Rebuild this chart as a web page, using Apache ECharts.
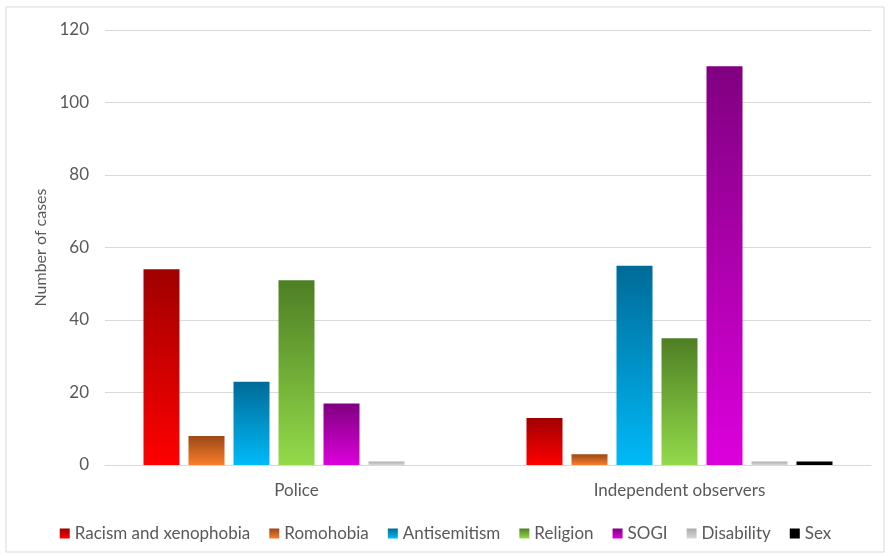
<!DOCTYPE html>
<html style="height: 100%">
<head>
<meta charset="utf-8">
</head>
<body style="height: 100%; margin: 0">
<div id="container" style="width: 891px; height: 556px"></div>
<script src="https://cdn.jsdelivr.net/npm/echarts@6/dist/echarts.min.js"></script>
<script>
var categories = ['Police', 'Independent observers'];
var seriesNames = ['Racism and xenophobia', 'Romohobia', 'Antisemitism', 'Religion', 'SOGI', 'Disability', 'Sex'];
var racism = [54, 13];
var romohobia = [8, 3];
var antisemitism = [23, 55];
var religion = [51, 35];
var sogi = [17, 110];
var disability = [1, 1];
var sex = [0, 1];
var yTicks = [0, 20, 40, 60, 80, 100, 120];

// top / bottom colours of each bar gradient
var colours = [
  ['#a00000', '#ff0000'],
  ['#9a4816', '#fa7d2a'],
  ['#006a98', '#00baf8'],
  ['#4e7f24', '#93da4a'],
  ['#800080', '#dc00dc'],
  ['#ababab', '#d9d9d9'],
  ['#000000', '#000000']
];
var values = [racism, romohobia, antisemitism, religion, sogi, disability, sex];

var dom = document.getElementById('container');
var myChart = echarts.init(dom);

var series = [];
for (var i = 0; i < seriesNames.length; i++) {
  series.push({
    name: seriesNames[i],
    type: 'bar',
    data: values[i],
    barWidth: 36,
    barGap: '25%',
    itemStyle: {
      color: new echarts.graphic.LinearGradient(0, 0, 0, 1, [
        { offset: 0, color: colours[i][0] },
        { offset: 1, color: colours[i][1] }
      ])
    }
  });
}

var option = {
  animation: false,
  textStyle: { fontFamily: 'Lato' },
  graphic: [{
    type: 'rect',
    shape: { x: 6, y: 7, width: 878, height: 545 },
    style: { fill: 'none', stroke: '#d9d9d9', lineWidth: 1 },
    silent: true
  }],
  grid: { left: 105, right: 20, top: 30, bottom: 91 },
  legend: {
    top: 520,
    left: 'center',
    itemWidth: 10,
    itemHeight: 10,
    itemGap: 19,
    icon: 'rect',
    textStyle: { color: '#595959', fontSize: 17, fontFamily: 'Lato' },
    data: seriesNames
  },
  xAxis: {
    type: 'category',
    data: categories,
    axisLine: { lineStyle: { color: '#d9d9d9' } },
    axisTick: { show: false },
    axisLabel: { color: '#595959', fontSize: 17, margin: 17 }
  },
  yAxis: {
    type: 'value',
    min: 0,
    max: 120,
    interval: 20,
    name: 'Number of cases',
    nameLocation: 'middle',
    nameGap: 55,
    nameTextStyle: { color: '#595959', fontSize: 16 },
    axisLabel: {
      color: '#595959',
      fontSize: 17,
      margin: 16,
      formatter: function (v) { return yTicks.indexOf(v) >= 0 ? v : ''; }
    },
    splitLine: { lineStyle: { color: '#d9d9d9' } }
  },
  series: series
};
myChart.setOption(option, true);
</script>
</body>
</html>
